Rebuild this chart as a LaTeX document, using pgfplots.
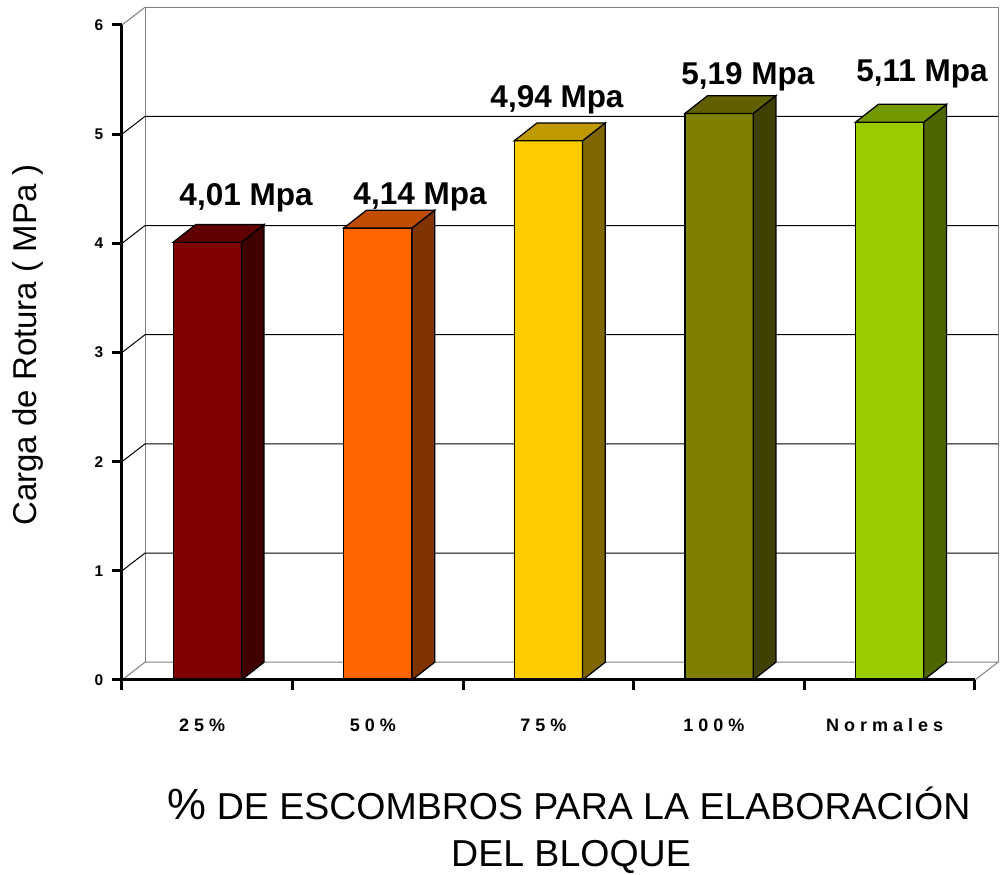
\documentclass[border=0pt]{standalone}
\usepackage{pgfplots}
\pgfplotsset{compat=1.18}
\usepackage{fontspec}
\setmainfont{Liberation Sans}
\definecolor{gridgray}{HTML}{808080}
\definecolor{fA}{HTML}{800000}\definecolor{tA}{HTML}{600000}\definecolor{sA}{HTML}{400000}
\definecolor{fB}{HTML}{FF6600}\definecolor{tB}{HTML}{BF4C00}\definecolor{sB}{HTML}{803300}
\definecolor{fC}{HTML}{FFCC00}\definecolor{tC}{HTML}{BF9900}\definecolor{sC}{HTML}{806600}
\definecolor{fD}{HTML}{808000}\definecolor{tD}{HTML}{606000}\definecolor{sD}{HTML}{404000}
\definecolor{fE}{HTML}{99CC00}\definecolor{tE}{HTML}{739900}\definecolor{sE}{HTML}{4D6600}
\begin{document}
\begin{tikzpicture}
\useasboundingbox (-48.8pt,-78pt) rectangle (351.2pt,272pt);
\begin{axis}[
  at={(0pt,0pt)}, anchor=south west,
  scale only axis, width=341.2pt, height=262pt,
  xmin=0, xmax=5, ymin=0, ymax=6,
  clip=false, axis on top=true,
  axis lines*=left,
  axis line style={line width=1.2pt, black},
  tick align=outside, major tick length=4pt,
  tick style={line width=1.2pt, black},
  xtick={0,1,2,3,4,5}, xticklabels={},
  ytick={0,1,2,3,4,5,6},
  /pgf/number format/assume math mode=true,
  yticklabel style={font=\fontsize{6.2}{7}\selectfont\bfseries},
]
% back wall & floor (gray borders)
\addplot[gridgray, line width=0.4pt] coordinates {(0,0)(0.135,0.163)(5.135,0.163)(5,0)};
\addplot[gridgray, line width=0.4pt] coordinates {(0.135,0.163)(0.135,6.163)(5.135,6.163)(5.135,0.163)};
\addplot[gridgray, line width=0.4pt] coordinates {(0,6)(0.135,6.163)};
% gridlines
\addplot[black, line width=0.4pt] coordinates {(0,1)(0.135,1.163)(5.135,1.163)};
\addplot[black, line width=0.4pt] coordinates {(0,2)(0.135,2.163)(5.135,2.163)};
\addplot[black, line width=0.4pt] coordinates {(0,3)(0.135,3.163)(5.135,3.163)};
\addplot[black, line width=0.4pt] coordinates {(0,4)(0.135,4.163)(5.135,4.163)};
\addplot[black, line width=0.4pt] coordinates {(0,5)(0.135,5.163)(5.135,5.163)};
% bar 25% (4.01)
\addplot[fill=fA, draw=black, line width=0.5pt] coordinates {(0.3,0)(0.7,0)(0.7,4.01)(0.3,4.01)} -- cycle;
\addplot[fill=sA, draw=black, line width=0.5pt] coordinates {(0.7,0)(0.833,0.163)(0.833,4.173)(0.7,4.01)} -- cycle;
\addplot[fill=tA, draw=black, line width=0.5pt] coordinates {(0.3,4.01)(0.7,4.01)(0.833,4.173)(0.433,4.173)} -- cycle;
% bar 50% (4.14)
\addplot[fill=fB, draw=black, line width=0.5pt] coordinates {(1.3,0)(1.7,0)(1.7,4.14)(1.3,4.14)} -- cycle;
\addplot[fill=sB, draw=black, line width=0.5pt] coordinates {(1.7,0)(1.833,0.163)(1.833,4.303)(1.7,4.14)} -- cycle;
\addplot[fill=tB, draw=black, line width=0.5pt] coordinates {(1.3,4.14)(1.7,4.14)(1.833,4.303)(1.433,4.303)} -- cycle;
% bar 75% (4.94)
\addplot[fill=fC, draw=black, line width=0.5pt] coordinates {(2.3,0)(2.7,0)(2.7,4.94)(2.3,4.94)} -- cycle;
\addplot[fill=sC, draw=black, line width=0.5pt] coordinates {(2.7,0)(2.833,0.163)(2.833,5.103)(2.7,4.94)} -- cycle;
\addplot[fill=tC, draw=black, line width=0.5pt] coordinates {(2.3,4.94)(2.7,4.94)(2.833,5.103)(2.433,5.103)} -- cycle;
% bar 100% (5.19)
\addplot[fill=fD, draw=black, line width=0.5pt] coordinates {(3.3,0)(3.7,0)(3.7,5.19)(3.3,5.19)} -- cycle;
\addplot[fill=sD, draw=black, line width=0.5pt] coordinates {(3.7,0)(3.833,0.163)(3.833,5.353)(3.7,5.19)} -- cycle;
\addplot[fill=tD, draw=black, line width=0.5pt] coordinates {(3.3,5.19)(3.7,5.19)(3.833,5.353)(3.433,5.353)} -- cycle;
% bar Normales (5.11)
\addplot[fill=fE, draw=black, line width=0.5pt] coordinates {(4.3,0)(4.7,0)(4.7,5.11)(4.3,5.11)} -- cycle;
\addplot[fill=sE, draw=black, line width=0.5pt] coordinates {(4.7,0)(4.833,0.163)(4.833,5.273)(4.7,5.11)} -- cycle;
\addplot[fill=tE, draw=black, line width=0.5pt] coordinates {(4.3,5.11)(4.7,5.11)(4.833,5.273)(4.433,5.273)} -- cycle;
% value labels
\begin{scope}[every node/.style={font=\fontsize{12.6}{14}\selectfont\bfseries}]
\node at (axis cs:0.727,4.415) {4,01 Mpa};
\node at (axis cs:1.747,4.424) {4,14 Mpa};
\node at (axis cs:2.550,5.313) {4,94 Mpa};
\node at (axis cs:3.669,5.523) {5,19 Mpa};
\node at (axis cs:4.689,5.551) {5,11 Mpa};
\end{scope}
% category labels
\begin{scope}[every node/.style={font=\fontsize{7.2}{8}\selectfont\bfseries}]
\node at (axis cs:0.47,-0.412) {2 5 \%};
\node at (axis cs:1.47,-0.412) {5 0 \%};
\node at (axis cs:2.47,-0.412) {7 5 \%};
\node at (axis cs:3.47,-0.412) {1 0 0 \%};
\node at (axis cs:4.47,-0.412) {N o r m a l e s};
\end{scope}
% axis titles
\node[rotate=90, font=\fontsize{13.2}{15}\selectfont] at (axis cs:-0.551,3.069) {Carga de Rotura ( MPa )};
\node[anchor=base, font=\fontsize{15}{18}\selectfont] at (axis cs:2.620,-1.282) {{\fontsize{17.5}{18}\selectfont\%} DE ESCOMBROS PARA LA ELABORACIÓN};
\node[anchor=base, font=\fontsize{15}{18}\selectfont] at (axis cs:2.632,-1.704) {DEL BLOQUE};
\end{axis}
\end{tikzpicture}
\end{document}
